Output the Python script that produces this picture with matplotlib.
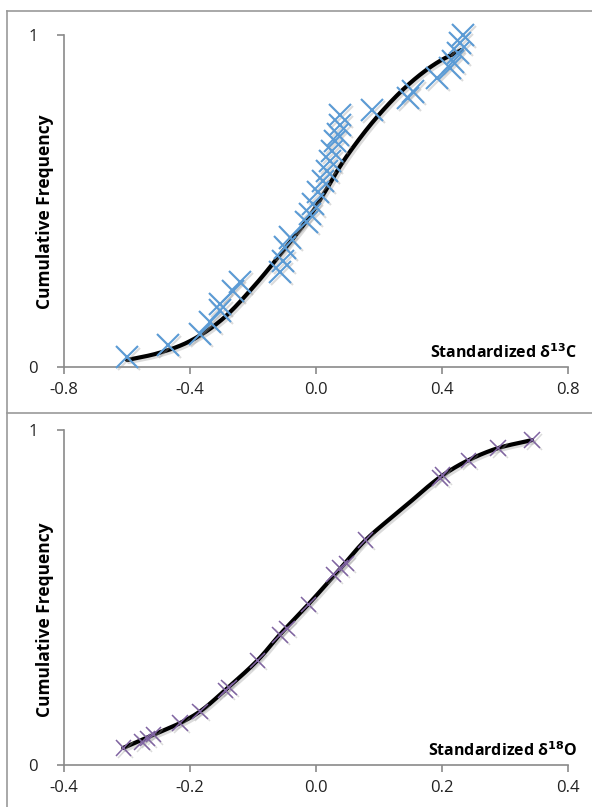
import numpy as np
import matplotlib
matplotlib.use("Agg")
import matplotlib.pyplot as plt
import matplotlib.patheffects as pe
from matplotlib.lines import Line2D

plt.rcParams['font.family'] = ['Open Sans', 'DejaVu Sans']

# d13C: observed cumulative frequencies
c13_x = [-0.60, -0.47, -0.368, -0.337, -0.305, -0.305, -0.263, -0.241,
         -0.114, -0.105, -0.098, -0.083, -0.030, -0.020, -0.010, 0.006,
         0.022, 0.035, 0.044, 0.050, 0.060, 0.070, 0.076, 0.076,
         0.178, 0.292, 0.308, 0.384, 0.425, 0.435, 0.450, 0.457, 0.467]
c13_f = [0.030, 0.066, 0.100, 0.136, 0.170, 0.190, 0.230, 0.256,
         0.286, 0.320, 0.360, 0.390, 0.437, 0.460, 0.490, 0.527,
         0.560, 0.590, 0.620, 0.650, 0.680, 0.700, 0.730, 0.760,
         0.774, 0.810, 0.830, 0.870, 0.900, 0.920, 0.945, 0.975, 1.000]
# d13C: fitted curve
c13_fit_x = [-0.60, -0.50, -0.40, -0.30, -0.20, -0.10, -0.03, 0.03,
             0.08, 0.14, 0.20, 0.27, 0.33, 0.39, 0.462]
c13_fit_f = [0.021, 0.042, 0.078, 0.142, 0.240, 0.355, 0.440, 0.530,
             0.610, 0.690, 0.760, 0.830, 0.880, 0.920, 0.955]

# d18O: observed values (sit on the fitted curve)
o18_x = [-0.306, -0.276, -0.268, -0.258, -0.216, -0.184, -0.144, -0.138,
         -0.093, -0.057, -0.046, -0.012, 0.028, 0.038, 0.048, 0.079,
         0.197, 0.201, 0.242, 0.289, 0.343]
o18_f = [0.051, 0.069, 0.080, 0.090, 0.125, 0.160, 0.222, 0.232,
         0.312, 0.388, 0.408, 0.480, 0.568, 0.588, 0.602, 0.672,
         0.857, 0.866, 0.910, 0.946, 0.970]
# d18O: fitted curve
o18_fit_x = [-0.306, -0.258, -0.216, -0.184, -0.144, -0.093, -0.057, -0.012,
             0.038, 0.079, 0.140, 0.199, 0.242, 0.289, 0.343]
o18_fit_f = [0.051, 0.090, 0.125, 0.160, 0.224, 0.312, 0.390, 0.480,
             0.585, 0.672, 0.770, 0.862, 0.910, 0.946, 0.970]


def smooth(xs, ys, n=24, alpha=0.5):
    # centripetal Catmull-Rom through the points, like a spreadsheet smoothed line
    p = np.column_stack([xs, ys]).astype(float)
    p = np.vstack([2 * p[0] - p[1], p, 2 * p[-1] - p[-2]])
    out = []
    for i in range(1, len(p) - 2):
        p0, p1, p2, p3 = p[i - 1], p[i], p[i + 1], p[i + 2]
        t0 = 0.0
        t1 = t0 + np.linalg.norm(p1 - p0) ** alpha
        t2 = t1 + np.linalg.norm(p2 - p1) ** alpha
        t3 = t2 + np.linalg.norm(p3 - p2) ** alpha
        t = np.linspace(t1, t2, n, endpoint=False)[:, None]
        a1 = (t1 - t) / (t1 - t0) * p0 + (t - t0) / (t1 - t0) * p1
        a2 = (t2 - t) / (t2 - t1) * p1 + (t - t1) / (t2 - t1) * p2
        a3 = (t3 - t) / (t3 - t2) * p2 + (t - t2) / (t3 - t2) * p3
        b1 = (t2 - t) / (t2 - t0) * a1 + (t - t0) / (t2 - t0) * a2
        b2 = (t3 - t) / (t3 - t1) * a2 + (t - t1) / (t3 - t1) * a3
        out.append((t2 - t) / (t2 - t1) * b1 + (t - t1) / (t2 - t1) * b2)
    out.append(p[-2][None, :])
    out = np.vstack(out)
    return out[:, 0], out[:, 1]


W, H = 592, 807
fig = plt.figure(figsize=(W / 100, H / 100), dpi=100)

axis_grey = '#8a8a8a'
shadow = [pe.SimpleLineShadow(offset=(1.5, -1.5), shadow_color='#999999', alpha=0.35),
          pe.Normal()]


def make_axes(rect, xlim, xticks, xlabel_txt, xs, fs, fx, ff, color, msize, mew):
    ax = fig.add_axes(rect)
    ax.set_xlim(*xlim)
    ax.set_ylim(0, 1)
    for s in ['top', 'right']:
        ax.spines[s].set_visible(False)
    for s in ['left', 'bottom']:
        ax.spines[s].set_color(axis_grey)
        ax.spines[s].set_linewidth(1.2)
    ax.set_xticks(xticks)
    ax.set_xticklabels(['%.1f' % v for v in xticks])
    ax.set_yticks([0, 1])
    ax.set_yticklabels(['0', '1'])
    ax.tick_params(axis='both', colors=axis_grey, labelcolor='#222222',
                   labelsize=12, length=5, width=1.2, direction='out')
    ax.tick_params(axis='x', pad=6)
    ax.tick_params(axis='y', pad=14)

    sx, sy = smooth(fx, ff)
    ax.plot(sx, sy, color='black', lw=3.0, solid_capstyle='round',
            path_effects=shadow, zorder=2)
    ax.plot(xs, fs, ls='none', marker='x', ms=msize, mew=mew, color=color,
            path_effects=shadow, zorder=3, clip_on=False)
    ax.text(1.018, 0.015, xlabel_txt, transform=ax.transAxes, ha='right',
            va='bottom', fontsize=11.5, fontweight='bold')
    return ax


make_axes([64 / W, 1 - 367 / H, 504 / W, 332 / H], (-0.8, 0.8),
          [-0.8, -0.4, 0.0, 0.4, 0.8], r'Standardized δ$^{\mathbf{13}}$C',
          c13_x, c13_f, c13_fit_x, c13_fit_f, '#5b9bd5', 16, 1.5)
make_axes([64 / W, 1 - 765 / H, 504 / W, 335 / H], (-0.4, 0.4),
          [-0.4, -0.2, 0.0, 0.2, 0.4], r'Standardized δ$^{\mathbf{18}}$O',
          o18_x, o18_f, o18_fit_x, o18_fit_f, '#8064a2', 11, 1.1)

fig.text(45 / W, 1 - 212 / H, 'Cumulative Frequency', rotation=90,
         ha='center', va='center', fontsize=12.5, fontweight='bold')
fig.text(45 / W, 1 - 620 / H, 'Cumulative Frequency', rotation=90,
         ha='center', va='center', fontsize=12.5, fontweight='bold')

# chart frames
frame_kw = dict(color='#999999', lw=1.2, transform=fig.transFigure)
fig.add_artist(Line2D([7 / W, 1], [1 - 11 / H, 1 - 11 / H], **frame_kw))
fig.add_artist(Line2D([7 / W, 7 / W], [0, 1 - 11 / H], **frame_kw))
fig.add_artist(Line2D([7 / W, 1], [1 - 413 / H, 1 - 413 / H], **frame_kw))

fig.savefig('out.png', dpi=100)
